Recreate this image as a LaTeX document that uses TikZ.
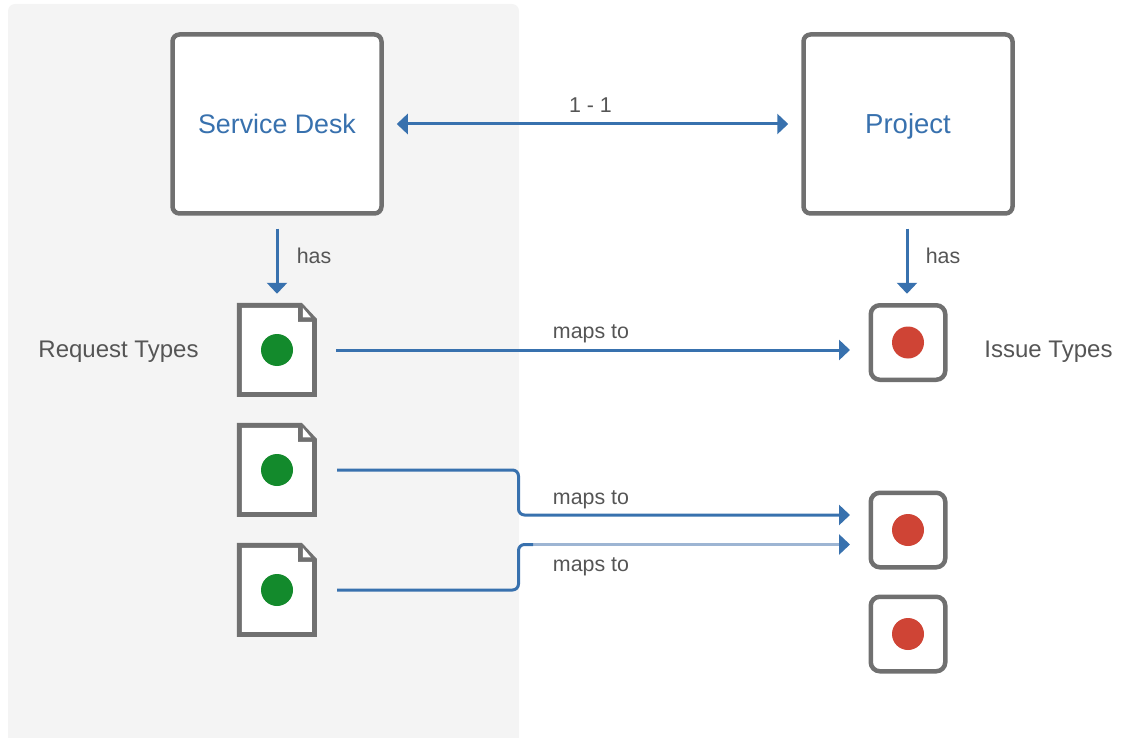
\documentclass[tikz,border=0pt]{standalone}
\usepackage{fontspec}
\setmainfont{Liberation Sans}
\usetikzlibrary{arrows.meta,calc}
\definecolor{panelbg}{HTML}{F4F4F4}
\definecolor{framegray}{HTML}{707070}
\definecolor{linkblue}{HTML}{3871AE}
\definecolor{linklight}{HTML}{9DB5D3}
\definecolor{dotgreen}{HTML}{138A2C}
\definecolor{dotred}{HTML}{CF4435}
\definecolor{labelgray}{HTML}{555555}
\tikzset{
  x=1pt,y=-1pt,
  bigbox/.style={draw=framegray,line width=4.5pt,rounded corners=7pt,fill=white,minimum width=209pt,minimum height=179pt,inner sep=0pt,text=linkblue,text height=19.4pt,text depth=0.4pt,font=\fontsize{26.8}{30}\selectfont},
  docbox/.style={minimum width=80pt,minimum height=94pt,inner sep=0pt},
  issuebox/.style={draw=framegray,line width=4.5pt,rounded corners=9pt,fill=white,minimum width=74.5pt,minimum height=74.5pt,inner sep=0pt},
  greendot/.style={circle,fill=dotgreen,minimum size=32pt,inner sep=0pt},
  reddot/.style={circle,fill=dotred,minimum size=32pt,inner sep=0pt},
  link/.style={draw=linkblue,line width=3pt,-{Triangle[length=11pt,width=20pt]}},
  linklead/.style={draw=linkblue,line width=3pt,rounded corners=6pt},
  smalltext/.style={text=labelgray,font=\fontsize{21.4}{24}\selectfont,inner sep=0pt},
  sidetext/.style={text=labelgray,font=\fontsize{24}{26}\selectfont,inner sep=0pt},
}
\newcommand{\docicon}[2]{%
  \node[docbox] (#1) at (277,#2) {};
  \begin{scope}[shift={(#1.north west)}]
    \fill[framegray] (0,0) -- (65,0) -- (80,16) -- (80,94) -- (0,94) -- cycle;
    \fill[white] (5,5) -- (61,5) -- (61,19) -- (75,19) -- (75,89) -- (5,89) -- cycle;
    \fill[white] (66,5) -- (66,14.5) -- (74,14.5) -- cycle;
  \end{scope}
  \node[greendot] (#1dot) at (#1.center) {};
}
\begin{document}
\begin{tikzpicture}
\useasboundingbox (0,0) rectangle (1122,738);
\fill[panelbg,rounded corners=7pt] (8,4) rectangle (519,745);
\fill[white] (0,738) rectangle (1122,746);

\node[bigbox] (sd) at (277,124) {Service Desk};
\node[bigbox] (pj) at (908,124) {\fontsize{27.5}{30}\selectfont Project};

\docicon{d1}{350}
\docicon{d2}{470}
\docicon{d3}{590}

\node[issuebox] (i1) at (908,342.5) {};
\node[issuebox] (i2) at (908,530) {};
\node[issuebox] (i3) at (908,634) {};
\node[reddot] (r1) at (i1.center) {};
\node[reddot] (r2) at (i2.center) {};
\node[reddot] (r3) at (i3.center) {};

\coordinate (t1) at (850,350);
\coordinate (t2) at (850,515);
\coordinate (t3) at (850,544.5);
\coordinate (k2) at (518.5,470);
\coordinate (k3) at (518.5,590);
\coordinate (b3) at (533,544.5);
\coordinate (s1) at (336,350);
\coordinate (s2) at (337,470);
\coordinate (s3) at (337,590);

\draw[draw=linkblue,line width=3pt,{Triangle[length=11pt,width=20pt]}-{Triangle[length=11pt,width=20pt]},shorten <=13pt,shorten >=13pt] (sd.east) -- (pj.west);
\draw[link,shorten <=13pt] (sd.south) -- ($(sd.south)+(0,78)$);
\draw[link,shorten <=13pt] ($(pj.south)+(-1,0)$) -- ($(pj.south)+(-1,78)$);

\draw[link] (s1) -- (t1);
\draw[link,rounded corners=6pt] (s2) -- (k2) |- (t2);
\draw[linklight,line width=3.5pt,-{Triangle[length=11pt,width=20pt,color=linkblue]}] (b3) -- (t3);
\draw[linklead] (s3) -- (k3) |- (b3);

\node[smalltext] (l0) at (590.5,105) {1 - 1};
\node[smalltext] (l1) at (314,256) {has};
\node[smalltext] (l2) at (943,256) {has};
\node[smalltext] (l3) at (591,334) {maps to};
\node[smalltext] (l4) at (591,500) {maps to};
\node[smalltext] (l5) at (591,567) {maps to};
\node[sidetext] (l6) at (118.5,352) {Request Types};
\node[sidetext] (l7) at (1048.5,352) {Issue Types};
\end{tikzpicture}
\end{document}
